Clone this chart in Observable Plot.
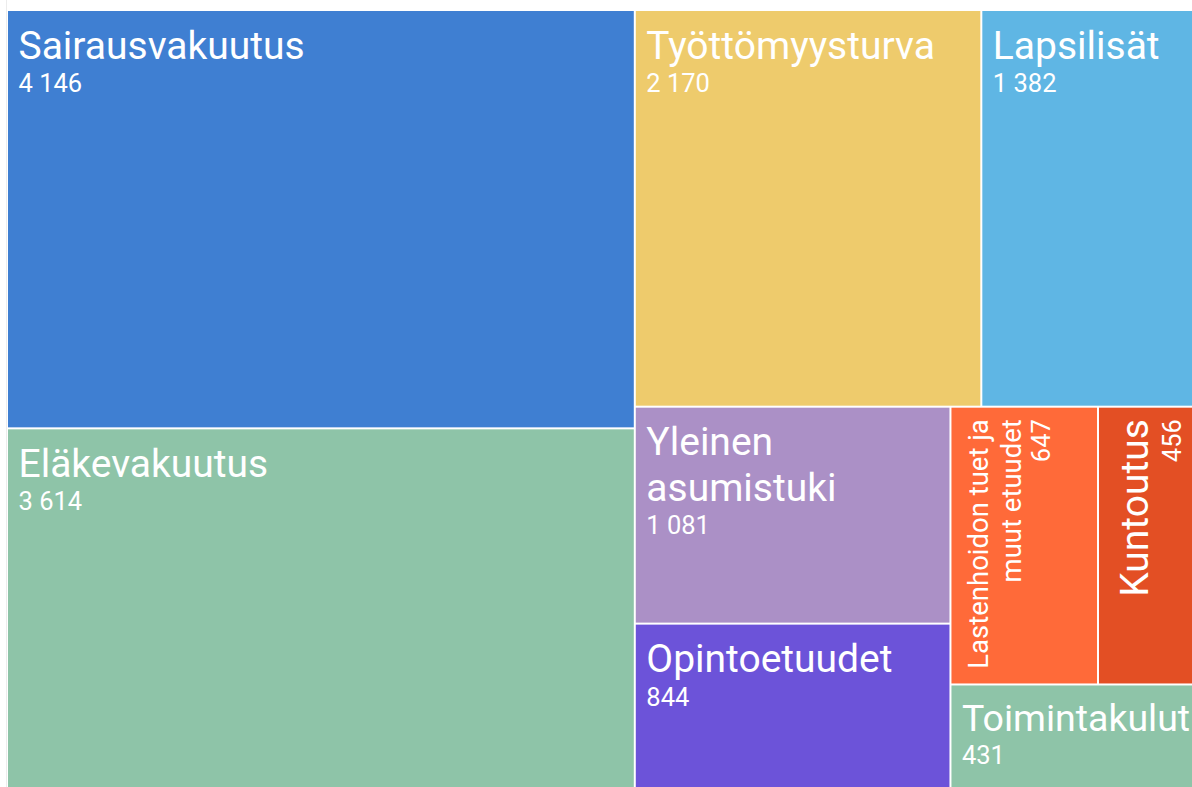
<!DOCTYPE html>
<html>
<head>
<meta charset="utf-8">
<script src="https://cdn.jsdelivr.net/npm/d3@7"></script>
<script src="https://cdn.jsdelivr.net/npm/@observablehq/plot@0.6"></script>
<style>
  html, body { margin: 0; padding: 0; background: #ffffff; }
  #wrap { position: relative; width: 1192px; height: 787px; overflow: hidden; }
  #edge { position: absolute; left: 6px; top: 0; width: 1px; height: 787px; background: #ececec; }
  #chart svg { display: block; }
</style>
</head>
<body>
<div id="wrap"><div id="edge"></div><div id="chart"></div></div>
<script>
// ---- data ----
const names = [
  "Sairausvakuutus", "Eläkevakuutus", "Työttömyysturva", "Lapsilisät",
  "Yleinen asumistuki", "Opintoetuudet", "Lastenhoidon tuet ja muut etuudet",
  "Kuntoutus", "Toimintakulut"
];
const values = [4146, 3614, 2170, 1382, 1081, 844, 647, 456, 431];
const labelLines = [
  "Sairausvakuutus", "Eläkevakuutus", "Työttömyysturva", "Lapsilisät",
  "Yleinen\nasumistuki", "Opintoetuudet", "Lastenhoidon tuet ja\nmuut etuudet",
  "Kuntoutus", "Toimintakulut"
];
const colors = [
  "#3f7fd2", "#8ec4a8", "#eecb6c", "#5fb6e4",
  "#ab90c6", "#6c53d9", "#ff6a39", "#e34f24", "#8ec4a8"
];

// ---- layout ----
const W = 1192, H = 787;
const tileW = 1195, tileH = 783, offX = 7, offY = 10;
const root = d3.hierarchy({children: names.map((name, i) => ({name, value: values[i], label: labelLines[i]}))})
  .sum(d => d.value || 0);
d3.treemap().tile(d3.treemapSquarify).size([tileW, tileH])(root);
const leaves = root.leaves();

const fi = d3.formatLocale({decimal: ",", thousands: "\u00a0", grouping: [3], currency: ["", "\u00a0€"]});
const fmt = fi.format(",d");

const ctx = document.createElement("canvas").getContext("2d");
const baseFs = 39, valueFs = 25.5;
function measure(text, fs) {
  ctx.font = `${fs}px Roboto`;
  return ctx.measureText(text).width;
}

const hRows = [], vRows = [];
for (const n of leaves) {
  const visW = Math.min(n.x1, W - offX) - n.x0;
  const w = n.x1 - n.x0, h = n.y1 - n.y0;
  const rotated = w < 160;
  const lines = n.data.label.split("\n");
  const widest = d3.max(lines, l => measure(l, baseFs));
  const avail = rotated ? h - 28 : visW - 13;
  const fs = Math.min(baseFs, Math.floor(2 * baseFs * avail / widest) / 2);
  const rows = rotated ? vRows : hRows;
  let last = 0;
  lines.forEach((line, i) => {
    const off = fs + (rotated ? 10 : 9) + i * fs * 1.17;
    last = off;
    if (rotated) rows.push({text: line, x: n.x0 + off, y: n.y0 + 12, fs});
    else rows.push({text: line, x: n.x0 + 11, y: n.y0 + off, fs});
  });
  const voff = last + 0.4 * fs + 18;
  if (rotated) rows.push({text: fmt(n.data.value), x: n.x0 + voff, y: n.y0 + 12, fs: valueFs});
  else rows.push({text: fmt(n.data.value), x: n.x0 + 11, y: n.y0 + voff, fs: valueFs});
}

const chart = Plot.plot({
  width: W,
  height: H,
  margin: 0,
  x: {domain: [-offX, W - offX], range: [0, W], axis: null},
  y: {domain: [-offY, H - offY], range: [0, H], axis: null},
  color: {domain: names, range: colors},
  style: {background: "transparent"},
  marks: [
    Plot.rect(leaves, {
      x1: d => d.x0, x2: d => d.x1, y1: d => d.y0, y2: d => d.y1,
      fill: d => d.data.name, inset: 1
    }),
    Plot.text(hRows, {
      x: "x", y: "y", text: "text", fontSize: d => d.fs,
      textAnchor: "start", lineAnchor: "bottom",
      fill: "white", fontFamily: "Roboto"
    }),
    Plot.text(vRows, {
      x: "x", y: "y", text: "text", fontSize: d => d.fs,
      textAnchor: "end", lineAnchor: "bottom", rotate: -90,
      fill: "white", fontFamily: "Roboto"
    })
  ]
});
document.getElementById("chart").appendChild(chart);
</script>
</body>
</html>
